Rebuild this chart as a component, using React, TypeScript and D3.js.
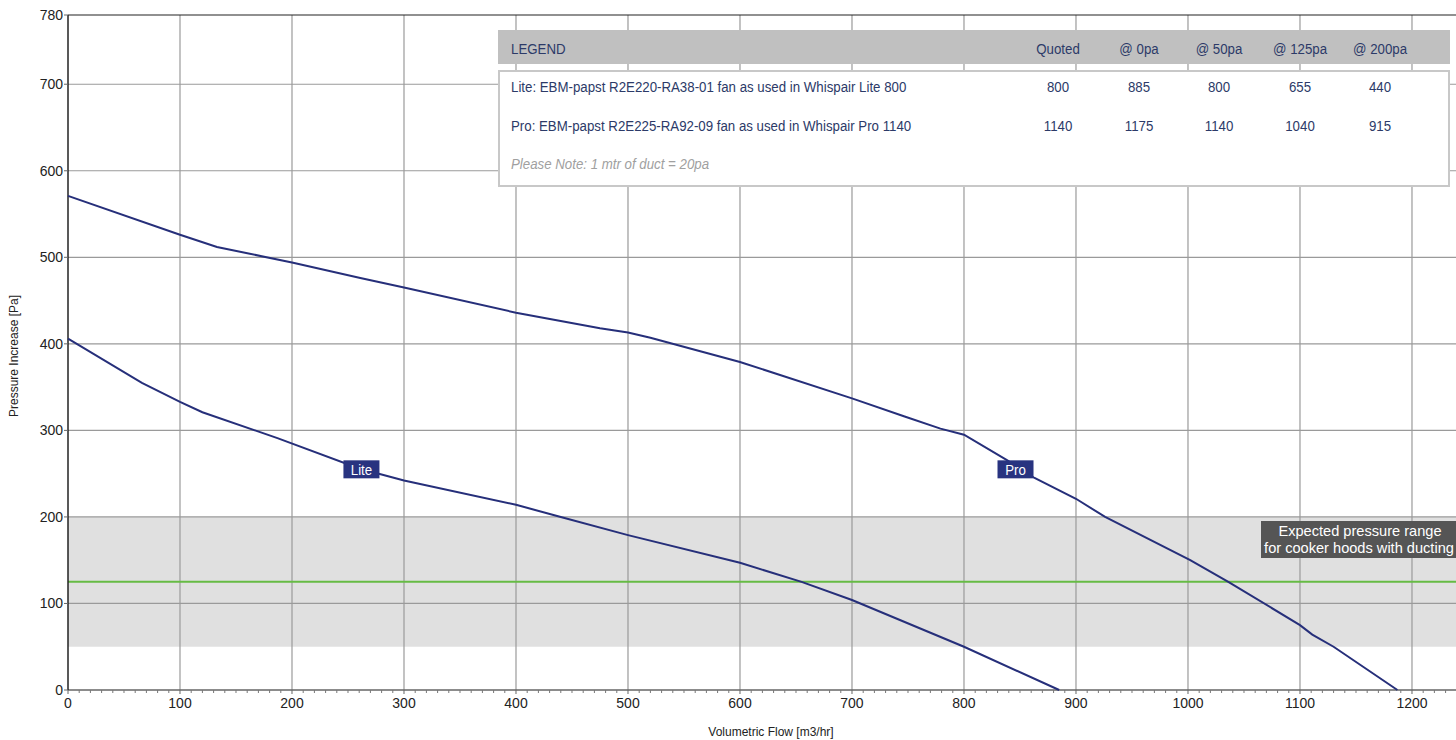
import React from "react";
import * as d3 from "d3";

const liteFlow = [0, 66, 100, 120, 187, 260, 300, 400, 440, 500, 600, 655, 700, 800, 885];
const litePressure = [406, 355, 333, 321, 291, 256, 242, 214, 200, 179, 147, 125, 104, 50, 0];

const proFlow = [0, 100, 133, 200, 261, 300, 400, 475, 500, 520, 600, 700, 747, 779, 800, 838, 863, 900, 926, 1002, 1036, 1100, 1111, 1130, 1187];
const proPressure = [571, 526, 512, 494, 476, 465, 436, 418, 413, 407, 379, 337, 316, 302, 295, 266, 245, 221, 200, 150, 125, 75, 64, 50, 0];

const seriesNames = ["Lite", "Pro"];
const labelFlow = [262, 846];
const labelPressure = [255, 255];

const xTicks = [0, 100, 200, 300, 400, 500, 600, 700, 800, 900, 1000, 1100, 1200];
const yTicks = [0, 100, 200, 300, 400, 500, 600, 700, 780];

const bandRange = [50, 200];
const targetPressure = 125;

const legendHeaders = ["Quoted", "@ 0pa", "@ 50pa", "@ 125pa", "@ 200pa"];
const legendRowNames = [
  "Lite: EBM-papst R2E220-RA38-01 fan as used in Whispair Lite 800",
  "Pro: EBM-papst R2E225-RA92-09 fan as used in Whispair Pro 1140",
];
const legendRowValues = [
  ["800", "885", "800", "655", "440"],
  ["1140", "1175", "1140", "1040", "915"],
];
const legendNote = "Please Note: 1 mtr of duct = 20pa";

const W = 1456;
const H = 740;
const L = 68;
const T = 15;
const B = 690;

const x = d3.scaleLinear().domain([0, 1239.3]).range([L, W]);
const y = d3.scaleLinear().domain([0, 780]).range([B, T]);

const NAVY = "#262f7a";
const TEXT_NAVY = "#2c3a68";
const GRID = "#9a9a9a";
const SANS = "'Liberation Sans', Arial, Helvetica, sans-serif";
const SQ = 0.885;

function CText(props: {
  x: number;
  y: number;
  anchor?: string;
  size?: number;
  fill?: string;
  italic?: boolean;
  children: React.ReactNode;
}) {
  return (
    <text
      transform={`translate(${props.x},${props.y}) scale(${SQ},1)`}
      textAnchor={props.anchor || "start"}
      fontFamily={SANS}
      fontSize={props.size || 15}
      fontStyle={props.italic ? "italic" : "normal"}
      fill={props.fill || TEXT_NAVY}
    >
      {props.children}
    </text>
  );
}

export default function App() {
  const line = d3
    .line<[number, number]>()
    .x((d) => x(d[0]))
    .y((d) => y(d[1]));
  const lite = liteFlow.map((f, i) => [f, litePressure[i]] as [number, number]);
  const pro = proFlow.map((f, i) => [f, proPressure[i]] as [number, number]);
  const minor = d3.range(0, 1240, 10).filter((v) => v % 100 !== 0);

  const colX = [1058, 1139, 1219, 1300, 1380];
  const rowY = [87, 126];

  return (
    <svg
      width={W}
      height={H}
      style={{ position: "absolute", left: 0, top: 0, overflow: "hidden", background: "#fff" }}
    >
      <rect
        x={L}
        y={y(bandRange[1])}
        width={W - L}
        height={y(bandRange[0]) - y(bandRange[1])}
        fill="#e0e0e0"
      />
      {xTicks.filter((v) => v > 0).map((v) => (
        <line key={"gx" + v} x1={x(v)} x2={x(v)} y1={T} y2={B} stroke={GRID} strokeWidth={1.2} />
      ))}
      {yTicks.filter((v) => v > 0 && v < 780).map((v) => (
        <line key={"gy" + v} x1={L} x2={W} y1={y(v)} y2={y(v)} stroke={GRID} strokeWidth={1.2} />
      ))}
      <line x1={L} x2={W} y1={y(targetPressure)} y2={y(targetPressure)} stroke="#66bb44" strokeWidth={2} />
      <line x1={L} x2={W} y1={T} y2={T} stroke="#222" strokeWidth={1.2} />
      <line x1={L} x2={W} y1={B} y2={B} stroke="#666" strokeWidth={1.5} />
      {minor.map((v) => (
        <line key={"mx" + v} x1={x(v)} x2={x(v)} y1={B} y2={B + 3} stroke="#777" strokeWidth={1} />
      ))}
      {xTicks.map((v) => (
        <g key={"xt" + v}>
          <line x1={x(v)} x2={x(v)} y1={B} y2={B + 4} stroke="#666" strokeWidth={1} />
          <text x={x(v)} y={708} textAnchor="middle" fontFamily={SANS} fontSize={14} fill="#222">
            {v}
          </text>
        </g>
      ))}
      <line x1={L} x2={L} y1={T} y2={B} stroke="#222" strokeWidth={1.5} />
      {yTicks.map((v) => (
        <g key={"yt" + v}>
          <line x1={L - 4} x2={L} y1={y(v)} y2={y(v)} stroke="#666" strokeWidth={1} />
          <text x={L - 5} y={y(v) + 5} textAnchor="end" fontFamily={SANS} fontSize={14} fill="#222">
            {v}
          </text>
        </g>
      ))}
      <text x={771} y={736} textAnchor="middle" fontFamily={SANS} fontSize={12} fill="#222">
        Volumetric Flow [m3/hr]
      </text>
      <text
        transform={`translate(18,356) rotate(-90)`}
        textAnchor="middle"
        fontFamily={SANS}
        fontSize={12}
        fill="#222"
      >
        Pressure Increase [Pa]
      </text>

      <path d={line(lite) || ""} fill="none" stroke={NAVY} strokeWidth={2} />
      <path d={line(pro) || ""} fill="none" stroke={NAVY} strokeWidth={2} />

      {seriesNames.map((n, i) => (
        <g key={n}>
          <rect x={x(labelFlow[i]) - 18} y={y(labelPressure[i]) - 9} width={36} height={18} fill="#283380" />
          <CText x={x(labelFlow[i])} y={y(labelPressure[i]) + 5.5} anchor="middle" size={15} fill="#fff">
            {n}
          </CText>
        </g>
      ))}

      <rect x={1261} y={521} width={210} height={37} fill="#555555" />
      <text x={1360} y={536} textAnchor="middle" fontFamily={SANS} fontSize={14.6} fill="#fff">
        Expected pressure range
      </text>
      <text x={1359} y={553} textAnchor="middle" fontFamily={SANS} fontSize={14.6} fill="#fff">
        for cooker hoods with ducting
      </text>

      <rect x={498} y={30} width={952} height={34} fill="#c0c0c0" />
      <CText x={511} y={54}>LEGEND</CText>
      {legendHeaders.map((h, i) => (
        <CText key={h} x={colX[i]} y={54} anchor="middle">
          {h}
        </CText>
      ))}
      <rect x={499} y={71} width={950} height={115} fill="#fff" stroke="#c8c8c8" strokeWidth={2} />
      {legendRowNames.map((r, j) => (
        <g key={r}>
          <CText x={511} y={rowY[j] + 5}>{r}</CText>
          {legendRowValues[j].map((v, i) => (
            <CText key={i} x={colX[i]} y={rowY[j] + 5} anchor="middle">
              {v}
            </CText>
          ))}
        </g>
      ))}
      <CText x={511} y={169} italic fill="#a0a0a0">
        {legendNote}
      </CText>
    </svg>
  );
}
